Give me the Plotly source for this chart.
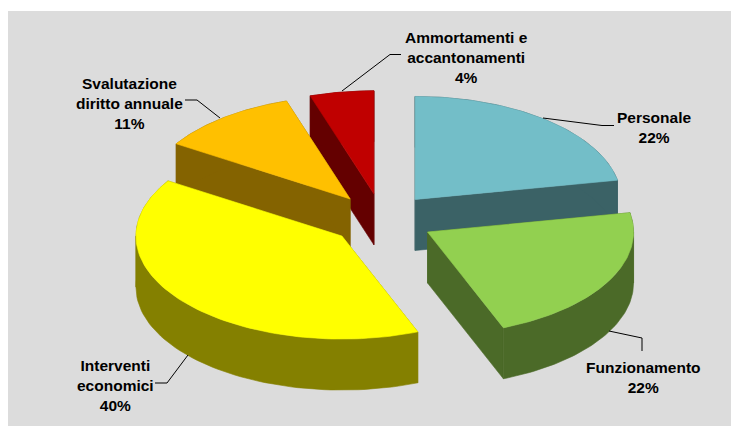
import numpy as np
import plotly.graph_objects as go

# data
categories = ["Personale", "Funzionamento", "Interventi<br>economici",
              "Svalutazione<br>diritto annuale", "Ammortamenti e<br>accantonamenti"]
slice_shares = [22.0, 22.0, 40.0, 11.0, 5.0]
percent_labels = ["22%", "22%", "40%", "11%", "4%"]

# style
top_colors = ["#73BEC8", "#92D050", "#FFFF00", "#FFC000", "#C00000"]
side_colors = ["#3B6266", "#4B6A28", "#848000", "#846300", "#640000"]
draw_order = [4, 0, 3, 2, 1]

# projection of the tilted pie, in page pixels
W, H = 731, 426
CX, CY, RX, RY, DEPTH, EXPLODE = 382, 219.5, 206, 103, 51, 0.2524
BG = "#DCDCDC"

label_pos = [(654, 127.5), (643, 377), (115, 385), (129, 103), (466, 57)]
leaders = [
    [(543, 118), (602, 125.5), (614, 125.5)],
    [(609, 331), (642, 338), (642, 351)],
    [(188, 355), (167, 383), (155, 383)],
    [(185, 100), (197, 100), (220, 118)],
    [(342, 91), (390, 54.5), (401, 54.5)],
]

fractions = np.array(slice_shares) / sum(slice_shares)
edges = np.concatenate([[0], np.cumsum(fractions) * 2 * np.pi])

fig = go.Figure()


def poly(xs, ys, color):
    fig.add_trace(go.Scatter(
        x=list(xs), y=list(ys), mode="lines", fill="toself", fillcolor=color,
        line=dict(color=color, width=0.6), hoverinfo="skip", showlegend=False))


for i in draw_order:
    a0, a1 = edges[i], edges[i + 1]
    mid = (a0 + a1) / 2
    ax = CX + EXPLODE * RX * np.sin(mid)
    ay = CY - EXPLODE * RY * np.cos(mid)
    t = np.linspace(a0, a1, 90)
    rx = ax + RX * np.sin(t)
    ry = ay - RY * np.cos(t)
    # radial cut faces
    for a in (a0, a1):
        ex, ey = ax + RX * np.sin(a), ay - RY * np.cos(a)
        poly([ax, ex, ex, ax, ax], [ay, ey, ey + DEPTH, ay + DEPTH, ay], side_colors[i])
    # outer wall, split where the rim turns back so each band is a simple polygon
    breaks = [a0] + [b for b in (np.pi / 2, 3 * np.pi / 2) if a0 < b < a1] + [a1]
    for b0, b1 in zip(breaks[:-1], breaks[1:]):
        s = np.linspace(b0, b1, 60)
        wx = ax + RX * np.sin(s)
        wy = ay - RY * np.cos(s)
        poly(np.concatenate([wx, wx[::-1], wx[:1]]),
             np.concatenate([wy, wy[::-1] + DEPTH, wy[:1]]), side_colors[i])
    # top
    poly(np.concatenate([[ax], rx, [ax]]), np.concatenate([[ay], ry, [ay]]), top_colors[i])

for pts in leaders:
    fig.add_trace(go.Scatter(
        x=[p[0] for p in pts], y=[p[1] for p in pts], mode="lines",
        line=dict(color="#000000", width=1), hoverinfo="skip", showlegend=False))

annotations = [
    dict(x=p[0], y=p[1], xref="x", yref="y", text=f"<b>{c}<br>{v}</b>", showarrow=False,
         align="center", xanchor="center", yanchor="middle",
         font=dict(family="Liberation Sans", size=15.5, color="#000000"))
    for c, v, p in zip(categories, percent_labels, label_pos)
]

fig.update_layout(
    width=W, height=H, margin=dict(l=0, r=0, t=0, b=0), autosize=False,
    paper_bgcolor="#FFFFFF", plot_bgcolor="#FFFFFF", showlegend=False,
    xaxis=dict(range=[0, W], visible=False, fixedrange=True),
    yaxis=dict(range=[H, 0], visible=False, fixedrange=True),
    shapes=[dict(type="rect", xref="x", yref="y", x0=8, y0=11, x1=W, y1=H,
                 fillcolor=BG, line=dict(width=0), layer="below")],
    annotations=annotations,
)
fig.write_html("out.html", config=dict(displayModeBar=False),
               post_script="document.body.style.margin='0';document.body.style.overflow='hidden';")
